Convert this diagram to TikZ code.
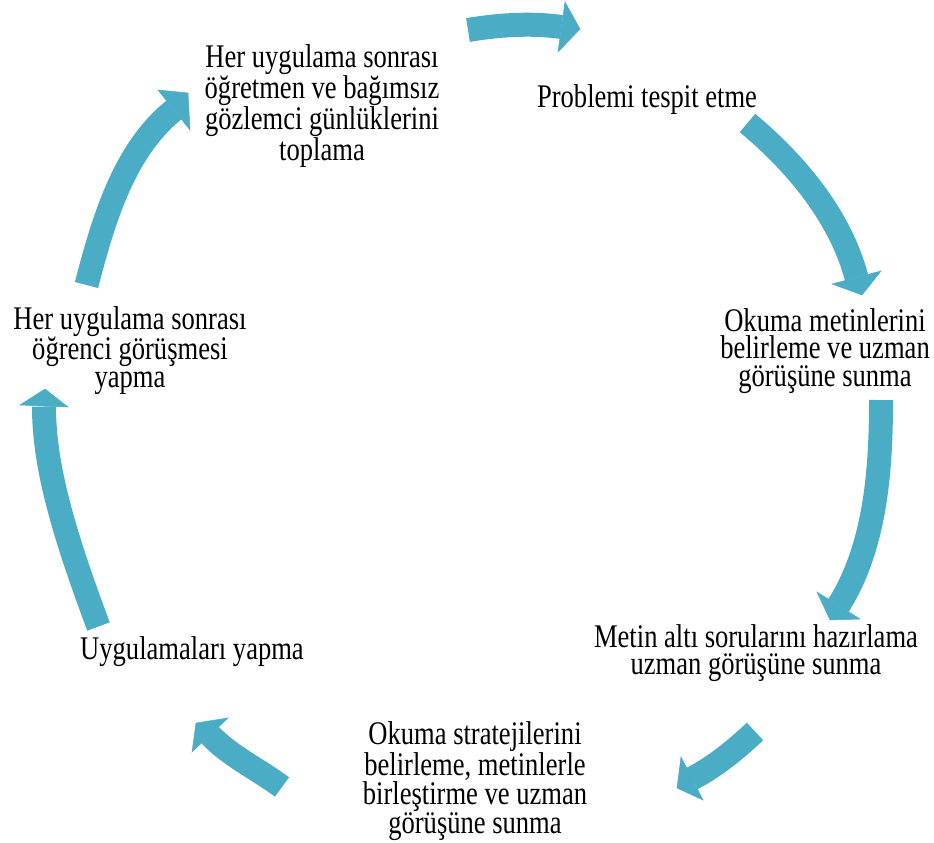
\documentclass[tikz,border=0pt]{standalone}
\usepackage{fontspec}
\setmainfont{Liberation Serif}[FakeStretch=0.805]
\definecolor{arr}{RGB}{75,172,198}
\begin{document}
\begin{tikzpicture}[x=1pt,y=-1pt,
  shaft/.style={draw=arr,line width=24pt},
  head/.style={fill=arr,draw=arr,line width=0.5pt,line join=miter},
  lbl/.style={inner sep=0pt,anchor=base,align=center,font=\fontsize{33}{27.7}\selectfont}]
\useasboundingbox (0,0) rectangle (934,843);
% texts (anchor = baseline of the last line)
\node[lbl] (n1) at (647,107) {Problemi tespit etme};
\node[lbl] (n2) at (825,386.4) {Okuma metinlerini\\belirleme ve uzman\\görüşüne sunma};
\node[lbl] (n3) at (756,674.7) {Metin altı sorularını hazırlama\\uzman görüşüne sunma};
\node[lbl] (n4) at (475,833) {Okuma stratejilerini\\belirleme, metinlerle\\birleştirme ve uzman\\görüşüne sunma};
\node[lbl] (n5) at (192,659) {Uygulamaları yapma};
\node[lbl] (n6) at (130,387.4) {Her uygulama sonrası\\öğrenci görüşmesi\\yapma};
\node[lbl] (n7) at (322,160.1) {Her uygulama sonrası\\öğretmen ve bağımsız\\gözlemci günlüklerini\\toplama};
% arrow A (top)
\coordinate (tA) at (468,30); \coordinate (bA) at (561.5,27);
\draw[shaft] (tA) .. controls (498.6,24.9) and (530.8,22.7) .. (bA);
\fill[head] (565,2) -- (580,29) -- (558,52) -- cycle;
% arrow B
\coordinate (tB) at (747.5,123); \coordinate (bB) at (856.5,277.5);
\draw[shaft] (tB) .. controls (795.9,163.3) and (840.4,216.6) .. (bB);
\fill[head] (832,284) -- (862,295) -- (881,271) -- cycle;
% arrow C
\coordinate (tC) at (881,400); \coordinate (bC) at (838.5,605.5);
\draw[shaft] (tC) .. controls (881,470) and (875.7,546.2) .. (bC);
\fill[head] (817,592) -- (830,620) -- (860,619) -- cycle;
% arrow D
\coordinate (tD) at (755,731.5); \coordinate (bD) at (692,778.5);
\draw[shaft] (tD) .. controls (736,749.3) and (715.1,766.7) .. (bD);
\fill[head] (681,757) -- (677,788) -- (703,800) -- cycle;
% arrow E
\coordinate (tE) at (282,787); \coordinate (bE) at (210,735);
\draw[shaft] (tE) .. controls (258.4,769.3) and (230.3,756.4) .. (bE);
\fill[head] (228,718) -- (196,723) -- (192,752) -- cycle;
% arrow F
\coordinate (tF) at (98.5,626.5); \coordinate (bF) at (44,406.5);
\draw[shaft] (tF) .. controls (63.5,532.8) and (44,466.5) .. (bF);
\fill[head] (20,405) -- (45,389) -- (68,407) -- cycle;
% arrow G
\coordinate (tG) at (86.5,285); \coordinate (bG) at (174,110);
\draw[shaft] (tG) .. controls (102.9,222.2) and (123.2,150.6) .. (bG);
\fill[head] (158,90) -- (188,93) -- (190,130) -- cycle;
\end{tikzpicture}
\end{document}
